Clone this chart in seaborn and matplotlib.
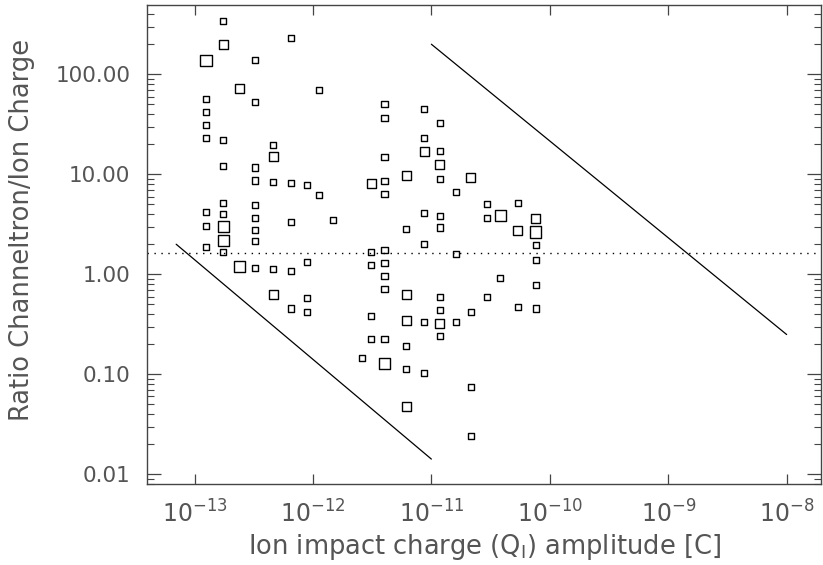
import numpy as np
import pandas as pd
import matplotlib
matplotlib.use("Agg")
import matplotlib.pyplot as plt
import seaborn as sns
from matplotlib.ticker import FixedLocator, NullLocator, FuncFormatter, LogFormatterSciNotation

# ---- data ----
charge = (
    [1.25e-13] * 8 + [1.75e-13] * 9 + [2.38e-13] * 2 + [3.27e-13] * 9 +
    [4.62e-13] * 5 + [6.49e-13] * 5 + [8.93e-13] * 4 + [1.12e-12] * 2 +
    [1.48e-12] * 1 + [2.58e-12] * 1 + [3.11e-12] * 5 + [4.02e-12] * 11 +
    [6.14e-12] * 7 + [8.67e-12] * 7 + [1.18e-11] * 10 + [1.61e-11] * 3 +
    [2.16e-11] * 4 + [2.93e-11] * 3 + [3.83e-11] * 2 + [5.38e-11] * 3 +
    [7.64e-11] * 6
)
ratio = [
    139, 56.2, 42.0, 30.9, 23.2, 4.17, 3.06, 1.86,
    344, 201, 22.0, 12.2, 5.20, 4.01, 2.99, 2.20, 1.66,
    72.4, 1.21,
    139, 52.5, 11.7, 8.67, 4.90, 3.63, 2.77, 2.15, 1.16,
    19.6, 15.2, 8.32, 1.13, 0.635,
    229, 8.13, 3.31, 1.08, 0.455,
    7.82, 1.33, 0.586, 0.423,
    69.7, 6.21,
    3.53,
    0.147,
    8.13, 1.68, 1.23, 0.385, 0.224,
    50.1, 36.8, 15.0, 8.63, 6.32, 1.75, 1.30, 0.955, 0.713, 0.224, 0.129,
    9.68, 2.82, 0.625, 0.349, 0.193, 0.1135, 0.0474,
    44.7, 23.2, 17.1, 4.06, 1.99, 0.330, 0.104,
    32.8, 17.1, 12.6, 9.04, 3.85, 2.94, 0.593, 0.440, 0.324, 0.242,
    6.65, 1.585, 0.330,
    9.29, 0.417, 0.0741, 0.0240,
    5.08, 3.63, 0.593,
    3.89, 0.912,
    5.20, 2.77, 0.471,
    3.63, 2.65, 1.95, 1.40, 0.782, 0.455,
]
size_class = [
    "L", "S", "S", "S", "S", "S", "S", "S",
    "S", "M", "S", "S", "S", "S", "L", "L", "S",
    "M", "L",
    "S", "S", "S", "S", "S", "S", "S", "S", "S",
    "S", "M", "S", "S", "M",
    "S", "S", "S", "S", "S",
    "S", "S", "S", "S",
    "S", "S",
    "S",
    "S",
    "M", "S", "S", "S", "S",
    "S", "S", "S", "S", "S", "S", "S", "S", "S", "S", "L",
    "M", "S", "M", "M", "S", "S", "M",
    "S", "S", "M", "S", "S", "S", "S",
    "S", "S", "M", "S", "S", "S", "S", "S", "M", "S",
    "S", "S", "S",
    "M", "S", "S", "S",
    "S", "S", "S",
    "L", "S",
    "S", "M", "S",
    "M", "L", "S", "S", "S", "S",
]

lower_x = [7.0e-14, 1.0e-11]
lower_y = [2.0, 0.0142]
upper_x = [1.0e-11, 1.0e-8]
upper_y = [200.0, 0.25]
threshold = 1.62

x_ticks = [1e-13, 1e-12, 1e-11, 1e-10, 1e-9, 1e-8]
y_ticks = [0.01, 0.1, 1.0, 10.0, 100.0]

# ---- figure ----
sns.set_theme(style="white")
plt.rcParams['font.family'] = ['DejaVu Sans']
plt.rcParams['mathtext.default'] = 'regular'
txt = '#555555'
axc = '#444444'

W, H = 823, 565
fig = plt.figure(figsize=(W / 100, H / 100), dpi=100)
fig.patch.set_facecolor('white')
left, right, top, bottom = 147, 821, 4.7, 484
ax = fig.add_axes([left / W, 1 - bottom / H, (right - left) / W, (bottom - top) / H])
ax.set_facecolor('white')
ax.set_xscale('log')
ax.set_yscale('log')

df = pd.DataFrame({"charge": charge, "ratio": ratio, "cls": size_class})
sns.scatterplot(data=df, x="charge", y="ratio", size="cls",
                sizes={"S": 19, "M": 42, "L": 63}, marker="s",
                facecolor="none", edgecolor="black", linewidth=1.0,
                legend=False, ax=ax, zorder=3)

sns.lineplot(x=lower_x, y=lower_y, ax=ax, color="black", linewidth=0.9)
sns.lineplot(x=upper_x, y=upper_y, ax=ax, color="black", linewidth=0.9)
ax.axhline(threshold, color="black", linewidth=1.0, linestyle=(0, (1, 4)))

ax.set_xlim(3.97e-14, 1.95e-8)
ax.set_ylim(0.0080, 497)

ax.xaxis.set_major_locator(FixedLocator(x_ticks))
ax.xaxis.set_minor_locator(NullLocator())
ax.xaxis.set_major_formatter(LogFormatterSciNotation())
ax.yaxis.set_major_locator(FixedLocator(y_ticks))
ax.yaxis.set_minor_locator(FixedLocator(
    [m * d for d in [0.001, 0.01, 0.1, 1, 10, 100] for m in range(2, 10)]))
ax.yaxis.set_major_formatter(FuncFormatter(lambda v, p: f"{v:.2f}"))

ax.tick_params(axis='x', which='major', direction='in', length=7.2, width=0.9,
               color=axc, top=True, bottom=True, labelsize=17, labelcolor=txt, pad=12)
ax.tick_params(axis='y', which='major', direction='in', length=10, width=0.9,
               color=axc, left=True, right=True, labelsize=15.5, labelcolor=txt, pad=12)
ax.tick_params(axis='y', which='minor', direction='in', length=5, width=0.8,
               color=axc, left=True, right=True)

for s in ax.spines.values():
    s.set_color(axc)
    s.set_linewidth(1.0)
    s.set_visible(True)

ax.set_xlabel(r"Ion impact charge (Q$_{I}$) amplitude [C]", fontsize=18.5, color=txt, labelpad=3)
ax.set_ylabel("Ratio Channeltron/Ion Charge", fontsize=18.5, color=txt, labelpad=8)
ax.yaxis.set_label_coords(-112 / (right - left), 0.53)
ax.grid(False)

fig.savefig("out.png", dpi=100)
